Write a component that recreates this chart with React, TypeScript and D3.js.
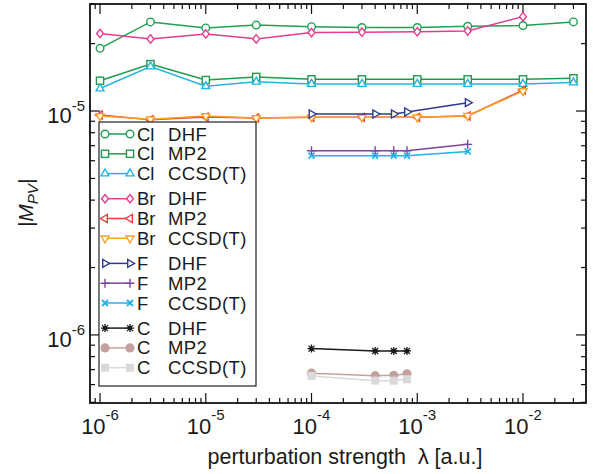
import React, { useEffect, useRef } from 'react';
import * as d3 from 'd3';

// perturbation strengths (x) per molecule
const lambdaCl = [1e-6, 3e-6, 1e-5, 3e-5, 1e-4, 3e-4, 1e-3, 3e-3, 1e-2, 3e-2];
const lambdaBr = [1e-6, 3e-6, 1e-5, 3e-5, 1e-4, 3e-4, 1e-3, 3e-3, 1e-2];
const lambdaF = [1e-4, 4e-4, 6e-4, 8e-4, 3e-3];
const lambdaC = [1e-4, 4e-4, 6e-4, 8e-4];

// |M_PV| values
const clDHF = [1.905e-5, 2.5e-5, 2.35e-5, 2.42e-5, 2.38e-5, 2.36e-5, 2.36e-5, 2.39e-5, 2.41e-5, 2.5e-5];
const clMP2 = [1.365e-5, 1.62e-5, 1.375e-5, 1.42e-5, 1.385e-5, 1.385e-5, 1.385e-5, 1.385e-5, 1.385e-5, 1.4e-5];
const clCCSDT = [1.26e-5, 1.58e-5, 1.29e-5, 1.35e-5, 1.32e-5, 1.32e-5, 1.32e-5, 1.32e-5, 1.32e-5, 1.34e-5];
const brDHF = [2.22e-5, 2.1e-5, 2.21e-5, 2.1e-5, 2.24e-5, 2.25e-5, 2.26e-5, 2.28e-5, 2.64e-5];
const brMP2 = [9.6e-6, 9.15e-6, 9.4e-6, 9.3e-6, 9.37e-6, 9.37e-6, 9.37e-6, 9.5e-6, 1.24e-5];
const brCCSDT = [9.5e-6, 9.18e-6, 9.5e-6, 9.3e-6, 9.37e-6, 9.37e-6, 9.37e-6, 9.53e-6, 1.228e-5];
const fDHF = [9.7e-6, 9.7e-6, 9.7e-6, 9.9e-6, 1.09e-5];
const fMP2 = [6.65e-6, 6.65e-6, 6.65e-6, 6.65e-6, 7.1e-6];
const fCCSDT = [6.32e-6, 6.32e-6, 6.32e-6, 6.32e-6, 6.6e-6];
const cDHF = [8.69e-7, 8.48e-7, 8.48e-7, 8.48e-7];
const cMP2 = [6.75e-7, 6.58e-7, 6.6e-7, 6.7e-7];
const cCCSDT = [6.56e-7, 6.25e-7, 6.25e-7, 6.34e-7];

const xMajorTicks = [1e-6, 1e-5, 1e-4, 1e-3, 1e-2];
const yMajorTicks = [1e-6, 1e-5];

const series = [
  { element: 'Cl', method: 'DHF', xs: lambdaCl, ys: clDHF, color: '#1fa052', marker: 'circle' },
  { element: 'Cl', method: 'MP2', xs: lambdaCl, ys: clMP2, color: '#1f9a4e', marker: 'square' },
  { element: 'Cl', method: 'CCSD(T)', xs: lambdaCl, ys: clCCSDT, color: '#22b5e2', marker: 'triUp' },
  { element: 'Br', method: 'DHF', xs: lambdaBr, ys: brDHF, color: '#e83a8e', marker: 'diamond' },
  { element: 'Br', method: 'MP2', xs: lambdaBr, ys: brMP2, color: '#eb3b3b', marker: 'triLeft' },
  { element: 'Br', method: 'CCSD(T)', xs: lambdaBr, ys: brCCSDT, color: '#f6a028', marker: 'triDown' },
  { element: 'F', method: 'DHF', xs: lambdaF, ys: fDHF, color: '#2e3a92', marker: 'triRight' },
  { element: 'F', method: 'MP2', xs: lambdaF, ys: fMP2, color: '#7d43a0', marker: 'plus' },
  { element: 'F', method: 'CCSD(T)', xs: lambdaF, ys: fCCSDT, color: '#1fb3e8', marker: 'cross' },
  { element: 'C', method: 'DHF', xs: lambdaC, ys: cDHF, color: '#1a1a1a', marker: 'star' },
  { element: 'C', method: 'MP2', xs: lambdaC, ys: cMP2, color: '#c4a19f', marker: 'dot' },
  { element: 'C', method: 'CCSD(T)', xs: lambdaC, ys: cCCSDT, color: '#d9d9dc', marker: 'block' },
];

const FONT = '"Liberation Sans", Arial, Helvetica, sans-serif';

const drawMarker = (g: any, kind: string, color: string, cx: number, cy: number) => {
  const open = (sel: any) => sel.attr('fill', 'white').attr('stroke', color).attr('stroke-width', 1.4);
  const tri = (angle: number) => {
    const s = 4.6;
    const pts = [[0, -s], [s * 0.87, s * 0.5], [-s * 0.87, s * 0.5]]
      .map(([px, py]) => {
        const a = (angle * Math.PI) / 180;
        return [cx + px * Math.cos(a) - py * Math.sin(a), cy + px * Math.sin(a) + py * Math.cos(a)];
      });
    open(g.append('path').attr('d', 'M' + pts.map(p => p.join(',')).join('L') + 'Z'));
  };
  switch (kind) {
    case 'circle':
      open(g.append('circle').attr('cx', cx).attr('cy', cy).attr('r', 3.8));
      break;
    case 'square':
      open(g.append('rect').attr('x', cx - 3.6).attr('y', cy - 3.6).attr('width', 7.2).attr('height', 7.2));
      break;
    case 'triUp':
      tri(0);
      break;
    case 'triDown':
      tri(180);
      break;
    case 'triLeft':
      tri(-90);
      break;
    case 'triRight':
      tri(90);
      break;
    case 'diamond':
      open(g.append('path').attr('d', `M${cx},${cy - 4.2}L${cx + 3.4},${cy}L${cx},${cy + 4.2}L${cx - 3.4},${cy}Z`));
      break;
    case 'plus':
      g.append('path')
        .attr('d', `M${cx - 4.5},${cy}H${cx + 4.5}M${cx},${cy - 4.5}V${cy + 4.5}`)
        .attr('stroke', color).attr('stroke-width', 1.4).attr('fill', 'none');
      break;
    case 'cross':
      g.append('path')
        .attr('d', `M${cx - 3},${cy - 3}L${cx + 3},${cy + 3}M${cx - 3},${cy + 3}L${cx + 3},${cy - 3}`)
        .attr('stroke', color).attr('stroke-width', 1.8).attr('fill', 'none');
      break;
    case 'star':
      g.append('path')
        .attr('d', `M${cx - 4},${cy}H${cx + 4}M${cx},${cy - 4}V${cy + 4}M${cx - 3},${cy - 3}L${cx + 3},${cy + 3}M${cx - 3},${cy + 3}L${cx + 3},${cy - 3}`)
        .attr('stroke', color).attr('stroke-width', 1.3).attr('fill', 'none');
      g.append('circle').attr('cx', cx).attr('cy', cy).attr('r', 2.2).attr('fill', color);
      break;
    case 'dot':
      g.append('circle').attr('cx', cx).attr('cy', cy).attr('r', 4.6).attr('fill', color);
      break;
    case 'block':
      g.append('rect').attr('x', cx - 4).attr('y', cy - 4).attr('width', 8).attr('height', 8).attr('fill', color);
      break;
  }
};

const MpvChart = () => {
  const svgRef = useRef<SVGSVGElement>(null);

  useEffect(() => {
    const svg = d3.select(svgRef.current);
    svg.selectAll('*').remove();

    const plot = { left: 90, right: 586, top: 4, bottom: 403 };

    const x = d3.scaleLog()
      .domain([10 ** -6.095, 10 ** -1.404])
      .range([plot.left, plot.right]);
    const y = d3.scaleLog()
      .domain([10 ** -6.304, 10 ** -4.522])
      .range([plot.bottom, plot.top]);

    // log ticks (1..9 per decade)
    const logTicks = (domain: number[]) => {
      const out: { v: number; major: boolean }[] = [];
      for (let d = -8; d <= 0; d++) {
        for (let m = 1; m <= 9; m++) {
          const v = m * 10 ** d;
          if (v >= domain[0] && v <= domain[1]) out.push({ v, major: m === 1 });
        }
      }
      return out;
    };

    const axes = svg.append('g').attr('stroke', '#111').attr('stroke-width', 1.2);
    logTicks(x.domain()).forEach(t => {
      const len = t.major ? 10 : 5;
      const px = x(t.v);
      axes.append('line').attr('x1', px).attr('x2', px).attr('y1', plot.bottom).attr('y2', plot.bottom - len);
      axes.append('line').attr('x1', px).attr('x2', px).attr('y1', plot.top).attr('y2', plot.top + len);
    });
    logTicks(y.domain()).forEach(t => {
      const len = t.major ? 10 : 5;
      const py = y(t.v);
      axes.append('line').attr('x1', plot.left).attr('x2', plot.left + len).attr('y1', py).attr('y2', py);
      axes.append('line').attr('x1', plot.right).attr('x2', plot.right - len).attr('y1', py).attr('y2', py);
    });

    svg.append('rect')
      .attr('x', plot.left)
      .attr('y', plot.top)
      .attr('width', plot.right - plot.left)
      .attr('height', plot.bottom - plot.top)
      .attr('fill', 'none')
      .attr('stroke', '#111')
      .attr('stroke-width', 1.8);

    // tick labels 10^n
    xMajorTicks.forEach(v => {
      const t = svg.append('text')
        .attr('x', x(v))
        .attr('y', 434)
        .attr('text-anchor', 'middle')
        .style('font-family', FONT)
        .style('font-size', '22px')
        .style('fill', '#1a1a1a');
      t.append('tspan').text('10');
      t.append('tspan').attr('dy', -14).style('font-size', '15px').text(String(Math.round(Math.log10(v))));
    });
    yMajorTicks.forEach(v => {
      const t = svg.append('text')
        .attr('x', 85)
        .attr('y', y(v) + 12)
        .attr('text-anchor', 'end')
        .style('font-family', FONT)
        .style('font-size', '22px')
        .style('fill', '#1a1a1a');
      t.append('tspan').text('10');
      t.append('tspan').attr('dy', -12).style('font-size', '15px').text(String(Math.round(Math.log10(v))));
    });

    // axis titles
    svg.append('text')
      .attr('x', 345)
      .attr('y', 464)
      .attr('text-anchor', 'middle')
      .attr('xml:space', 'preserve')
      .style('white-space', 'pre')
      .style('font-family', FONT)
      .style('font-size', '21.5px')
      .style('fill', '#1a1a1a')
      .text('perturbation strength  λ [a.u.]');

    const yl = svg.append('text')
      .attr('transform', 'translate(33,203) rotate(-90)')
      .attr('text-anchor', 'middle')
      .style('font-family', FONT)
      .style('font-style', 'italic')
      .style('font-size', '21px')
      .style('fill', '#1a1a1a');
    yl.append('tspan').text('|M');
    yl.append('tspan').attr('dy', 5).style('font-size', '15px').text('PV');
    yl.append('tspan').attr('dy', -5).text('|');

    // series
    const line = d3.line<[number, number]>()
      .x(d => x(d[0]))
      .y(d => y(d[1]));

    series.forEach(s => {
      const pts = s.xs.map((v, i) => [v, s.ys[i]] as [number, number]);
      const g = svg.append('g');
      g.append('path')
        .attr('d', line(pts))
        .attr('fill', 'none')
        .attr('stroke', s.color)
        .attr('stroke-width', 1.5);
      pts.forEach(p => drawMarker(g, s.marker, s.color, x(p[0]), y(p[1])));
    });

    // legend
    const legend = svg.append('g');
    legend.append('rect')
      .attr('x', 99)
      .attr('y', 122)
      .attr('width', 157)
      .attr('height', 264)
      .attr('fill', 'white')
      .attr('stroke', '#222')
      .attr('stroke-width', 1.2);

    series.forEach((s, i) => {
      const cy = 134 + i * 19.8 + Math.floor(i / 3) * 5.3;
      legend.append('line')
        .attr('x1', 105).attr('x2', 130)
        .attr('y1', cy).attr('y2', cy)
        .attr('stroke', s.color)
        .attr('stroke-width', 1.5);
      drawMarker(legend, s.marker, s.color, 105, cy);
      drawMarker(legend, s.marker, s.color, 130, cy);
      legend.append('text')
        .attr('x', 137)
        .attr('y', cy + 6.5)
        .style('font-family', FONT)
        .style('font-size', '18.5px')
        .style('fill', '#1a1a1a')
        .text(s.element);
      legend.append('text')
        .attr('x', 168)
        .attr('y', cy + 6.5)
        .style('font-family', FONT)
        .style('font-size', '18.5px')
        .style('letter-spacing', '0.4px')
        .style('fill', '#1a1a1a')
        .text(s.method);
    });
  }, []);

  return (
    <svg
      ref={svgRef}
      width={593}
      height={474}
      style={{ position: 'absolute', left: 0, top: 0, background: 'white' }}
    />
  );
};

export default function App() {
  return <MpvChart />;
}
